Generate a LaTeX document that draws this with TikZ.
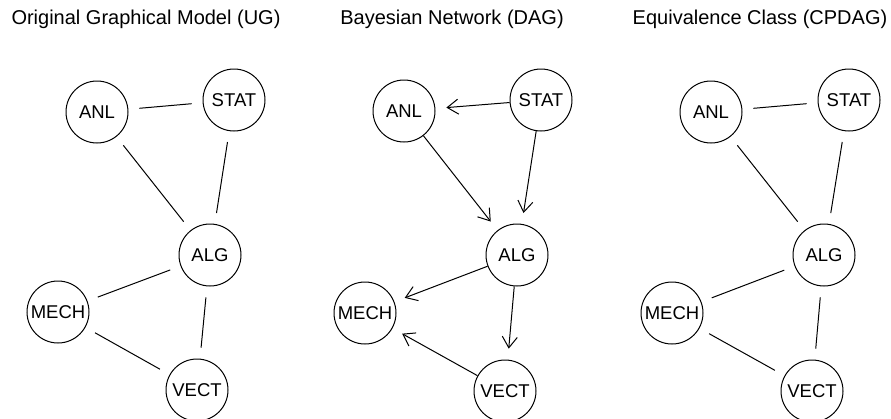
\documentclass[tikz,border=0pt]{standalone}
\usepackage{fontspec}
\setmainfont{Liberation Sans}
\usetikzlibrary{arrows.meta}

\begin{document}
\begin{tikzpicture}[x=1pt,y=-1pt,
	var/.style={draw,circle,line width=1pt,minimum size=62pt,inner sep=0pt,font=\fontsize{18.5}{20}\selectfont},
	edge/.style={line width=1pt,shorten <=11pt,shorten >=11pt},
	arc/.style={line width=1pt,shorten >=11pt,-{Straight Barb[length=11pt,width=15pt]}},
	title/.style={anchor=base,font=\fontsize{20}{24}\selectfont}]
	\useasboundingbox (0,0) rectangle (891,418);
	% UG
	\node[title](tUG) at (146,24) {Original Graphical Model (UG)};
	\node[var](anlA) at (97,112) {ANL};
	\node[var](statA) at (234,100) {STAT};
	\node[var](algA) at (210,255) {ALG};
	\node[var](mechA) at (58,312) {MECH};
	\node[var](vectA) at (197,390) {VECT};
	\draw[edge] (anlA) -- (statA);
	\draw[edge] (anlA) -- (algA);
	\draw[edge] (statA) -- (algA);
	\draw[edge] (algA) -- (mechA);
	\draw[edge] (algA) -- (vectA);
	\draw[edge] (mechA) -- (vectA);
	% DAG
	\node[title](tDAG) at (452,24) {Bayesian Network (DAG)};
	\node[var](anlB) at (404,111) {ANL};
	\node[var](statB) at (541,100) {STAT};
	\node[var](algB) at (517,255) {ALG};
	\node[var](mechB) at (365,313) {MECH};
	\node[var](vectB) at (505,391) {VECT};
	\draw[arc] (statB) -- (anlB);
	\draw[arc] (anlB) -- (algB);
	\draw[arc] (statB) -- (algB);
	\draw[arc] (algB) -- (mechB);
	\draw[arc] (algB) -- (vectB);
	\draw[arc] (vectB) -- (mechB);
	% CPDAG
	\node[title](tCPDAG) at (760,24) {Equivalence Class (CPDAG)};
	\node[var](anlC) at (711,112) {ANL};
	\node[var](statC) at (849,100) {STAT};
	\node[var](algC) at (824,255) {ALG};
	\node[var](mechC) at (672,313) {MECH};
	\node[var](vectC) at (812,391) {VECT};
	\draw[edge] (anlC) -- (statC);
	\draw[edge] (anlC) -- (algC);
	\draw[edge] (statC) -- (algC);
	\draw[edge] (algC) -- (mechC);
	\draw[edge] (algC) -- (vectC);
	\draw[edge] (mechC) -- (vectC);
\end{tikzpicture}
\end{document}
